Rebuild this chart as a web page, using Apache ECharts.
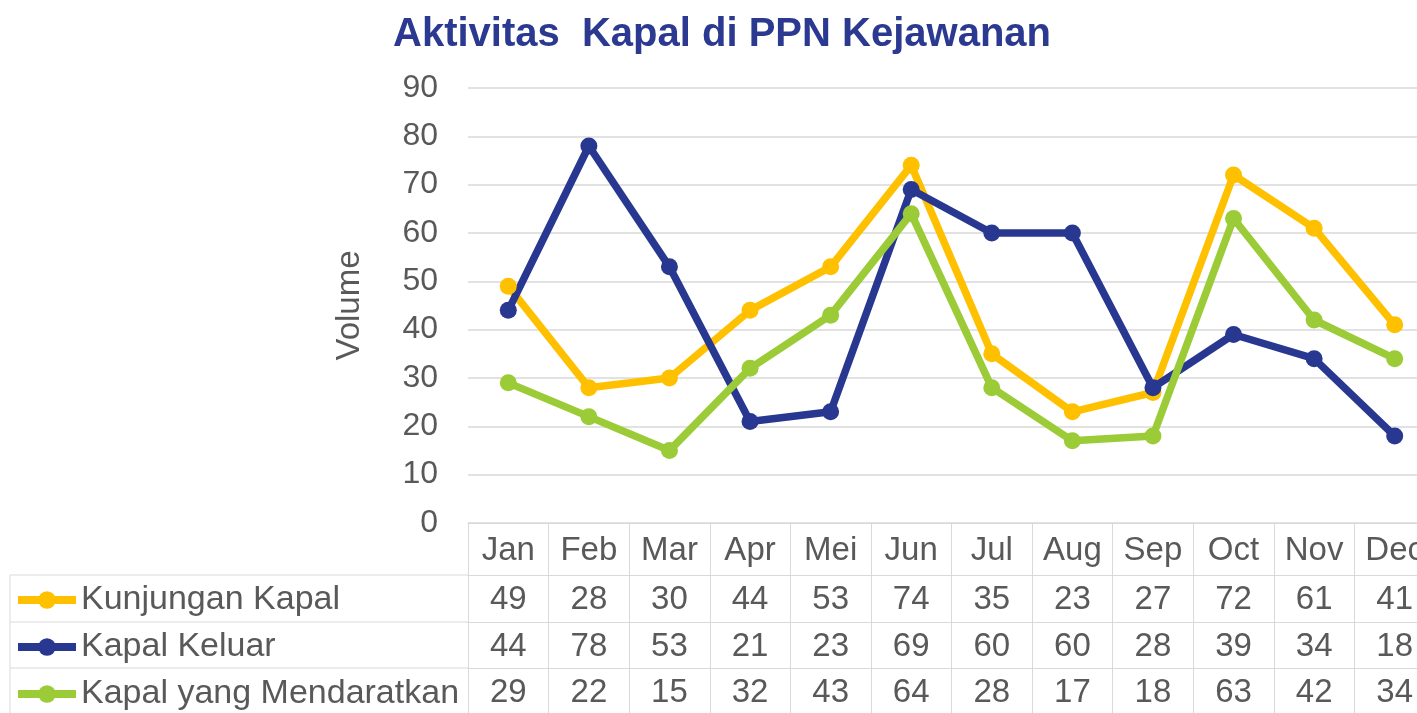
<!DOCTYPE html>
<html>
<head>
<meta charset="utf-8">
<script src="https://cdn.jsdelivr.net/npm/echarts@6/dist/echarts.min.js"></script>
<style>
  html, body { margin: 0; padding: 0; background: #fff; overflow: hidden; }
  /* the chart runs past the right edge of the window, like the reference crop */
  #chart { width: 1436px; height: 713px; }
</style>
</head>
<body>
<div id="chart"></div>
<script>
const months = ['Jan', 'Feb', 'Mar', 'Apr', 'Mei', 'Jun', 'Jul', 'Aug', 'Sep', 'Oct', 'Nov', 'Dec'];
const seriesNames = ['Kunjungan Kapal', 'Kapal Keluar', 'Kapal yang Mendaratkan'];
const kunjungan = [49, 28, 30, 44, 53, 74, 35, 23, 27, 72, 61, 41];
const keluar = [44, 78, 53, 21, 23, 69, 60, 60, 28, 39, 34, 18];
const mendaratkan = [29, 22, 15, 32, 43, 64, 28, 17, 18, 63, 42, 34];
const colors = ['#FFC000', '#283891', '#9BCB36'];

const rows = [kunjungan, keluar, mendaratkan];
const textColor = '#595959';
const borderColor = '#D9D9D9';
const fontFamily = '"Liberation Sans", Arial, sans-serif';

const chart = echarts.init(document.getElementById('chart'));

// header row (months) + one axis per table row
const headerAxis = {
  type: 'category',
  data: months,
  position: 'bottom',
  axisLine: { show: true, lineStyle: { color: borderColor, width: 1 } },
  axisTick: { show: true, length: 52, lineStyle: { color: borderColor, width: 1 } },
  axisLabel: {
    color: textColor, fontSize: 33, fontFamily: fontFamily,
    verticalAlign: 'middle', margin: 28, interval: 0
  }
};

const tableOffsets = [52, 99, 145];
const rowAxes = rows.map((vals, i) => ({
  type: 'category',
  data: vals.map(String),
  position: 'bottom',
  offset: tableOffsets[i],
  axisLine: { show: true, lineStyle: { color: borderColor, width: 1 } },
  axisTick: { show: true, length: 47, lineStyle: { color: borderColor, width: 1 } },
  axisLabel: {
    color: textColor, fontSize: 33, fontFamily: fontFamily,
    verticalAlign: 'middle', margin: 25, interval: 0
  }
}));

const legendTops = [583, 630, 677];

const option = {
  animation: false,
  backgroundColor: '#fff',
  title: {
    text: 'Aktivitas  Kapal di PPN Kejawanan',
    left: 717,
    textAlign: 'center',
    top: 10,
    textStyle: { color: '#2B3990', fontSize: 40, fontWeight: 'bold', fontFamily: fontFamily }
  },
  legend: seriesNames.map((n, i) => ({
    data: [n],
    left: 14,
    top: legendTops[i],
    padding: 0,
    itemWidth: 58,
    itemHeight: 22,
    itemGap: 0,
    lineStyle: { width: 8 },
    textStyle: { color: textColor, fontSize: 34, fontFamily: fontFamily }
  })),
  grid: { left: 468, top: 88, width: 967, height: 435 },
  xAxis: [headerAxis].concat(rowAxes),
  yAxis: {
    type: 'value',
    min: 0, max: 90, interval: 10,
    name: 'Volume',
    nameLocation: 'middle',
    nameRotate: 90,
    nameGap: 102,
    nameTextStyle: { color: textColor, fontSize: 33, fontFamily: fontFamily },
    axisLine: { show: false },
    axisTick: { show: false },
    axisLabel: { color: textColor, fontSize: 32, fontFamily: fontFamily, margin: 30 },
    splitLine: { lineStyle: { color: borderColor, width: 1.5 } }
  },
  graphic: [
    // legend column of the data table
    { type: 'line', shape: { x1: 10, y1: 575, x2: 468, y2: 575 }, style: { stroke: borderColor, lineWidth: 1 } },
    { type: 'line', shape: { x1: 10, y1: 622, x2: 468, y2: 622 }, style: { stroke: borderColor, lineWidth: 1 } },
    { type: 'line', shape: { x1: 10, y1: 668, x2: 468, y2: 668 }, style: { stroke: borderColor, lineWidth: 1 } },
    { type: 'line', shape: { x1: 10, y1: 575, x2: 10, y2: 713 }, style: { stroke: borderColor, lineWidth: 1 } }
  ],
  series: rows.map((vals, i) => ({
    name: seriesNames[i],
    type: 'line',
    xAxisIndex: 0,
    data: vals,
    symbol: 'circle',
    symbolSize: 17,
    color: colors[i],
    lineStyle: { width: 7.5, color: colors[i] },
    itemStyle: { color: colors[i] }
  }))
};

chart.setOption(option);
</script>
</body>
</html>
